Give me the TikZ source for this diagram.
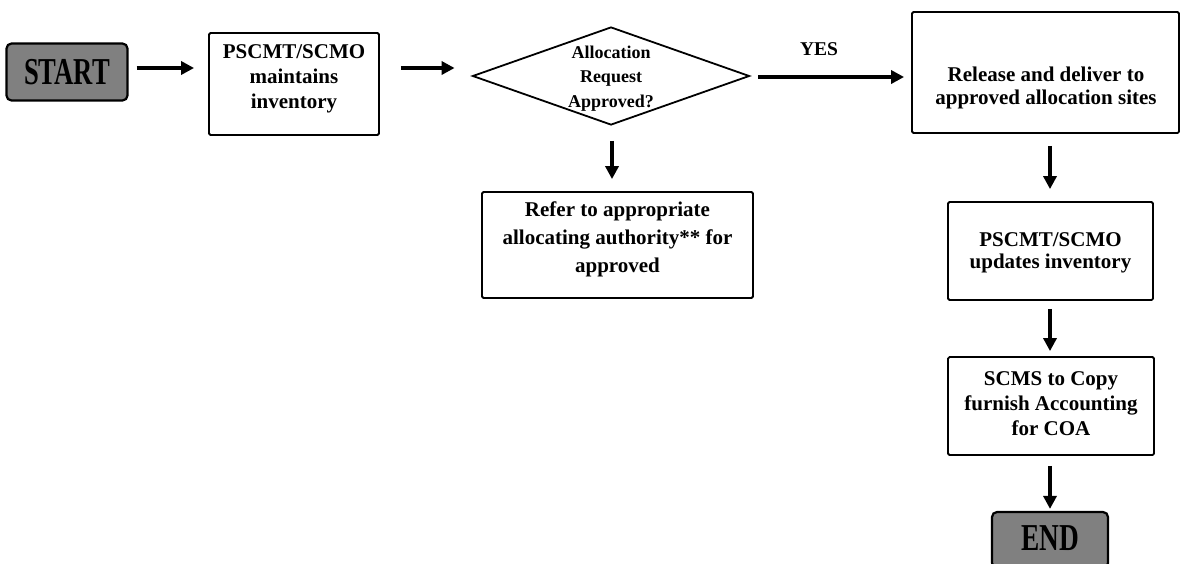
\documentclass[tikz,border=0pt]{standalone}
\usepackage{fontspec}
\setmainfont{Liberation Serif}
\usetikzlibrary{arrows.meta,shapes.geometric}
\newcommand{\mlines}[2]{{\fontsize{21}{#1}\selectfont\begin{tabular}{@{}c@{}}#2\end{tabular}}}
\tikzset{
  x=1pt,y=-1pt,
  procbox/.style={draw,line width=1.8pt,rounded corners=1.5pt,inner sep=0pt},
  boxtext/.style={inner sep=0pt,font=\bfseries},
  termbox/.style={draw,line width=2.2pt,rounded corners=5pt,fill=black!50,inner sep=0pt,
    font=\bfseries\fontsize{38}{38}\selectfont},
  decision/.style={draw,diamond,aspect=2.83,line width=1.8pt,inner sep=0pt},
  flow/.style={line width=3.6pt,-{Triangle[length=13pt,width=13pt]}},
}
\begin{document}
\begin{tikzpicture}
\useasboundingbox (0,0) rectangle (1182,563);
\node[termbox,minimum width=121pt,minimum height=57pt] (start) at (67,72) {\raisebox{-3pt}{\scalebox{0.7}[1]{START}}};
\node[procbox,minimum width=170pt,minimum height=102pt] (inv) at (294,84) {};
\node[boxtext] (invtxt) at (294,78) {\mlines{25}{PSCMT/SCMO\\maintains\\inventory}};
\node[decision,minimum width=277pt,minimum height=98pt] (dec) at (611,76) {};
\node[boxtext] (dectxt) at (611,77.6) {\fontsize{18}{24.5}\selectfont\begin{tabular}{@{}c@{}}Allocation\\Request\\Approved?\end{tabular}};
\node[procbox,minimum width=267pt,minimum height=121pt] (rel) at (1045.5,72.5) {};
\node[boxtext] (reltxt) at (1046,88) {\mlines{23}{Release and deliver to\\approved allocation sites}};
\node[procbox,minimum width=271pt,minimum height=106pt] (ref) at (617.5,245) {};
\node[boxtext] (reftxt) at (617.5,239) {\mlines{28}{Refer to appropriate\\allocating authority** for\\approved}};
\node[procbox,minimum width=205pt,minimum height=98pt] (upd) at (1050.5,251) {};
\node[boxtext] (updtxt) at (1050.5,253) {\mlines{22}{PSCMT/SCMO\\updates inventory}};
\node[procbox,minimum width=206pt,minimum height=98pt] (scms) at (1051,406) {};
\node[boxtext] (scmstxt) at (1051,405) {\mlines{25}{SCMS to Copy\\furnish Accounting\\for COA}};
\node[termbox,minimum width=116pt,minimum height=56pt] (end) at (1050,540) {\raisebox{4pt}{\scalebox{0.72}[1]{END}}};
\node[font=\bfseries\fontsize{19.5}{19.5}\selectfont,inner sep=0pt] (yes) at (819,49) {YES};
\draw[flow] ([shift={(8,-4)}]start.east) -- ([shift={(-14,-16)}]inv.west);
\draw[flow] ([shift={(21,-16)}]inv.east) -- ([shift={(-17,-8)}]dec.west);
\draw[flow] ([shift={(8,1)}]dec.east) -- ([shift={(-7,4.5)}]rel.west);
\draw[flow] ([shift={(1,15)}]dec.south) -- ([shift={(-5.5,-12)}]ref.north);
\draw[flow] ([shift={(4.5,12)}]rel.south) -- ([shift={(-0.5,-12)}]upd.north);
\draw[flow] ([shift={(-0.5,8)}]upd.south) -- ([shift={(-1,-5)}]scms.north);
\draw[flow] ([shift={(-1,10)}]scms.south) -- ([shift={(0,-2)}]end.north);
\end{tikzpicture}
\end{document}
